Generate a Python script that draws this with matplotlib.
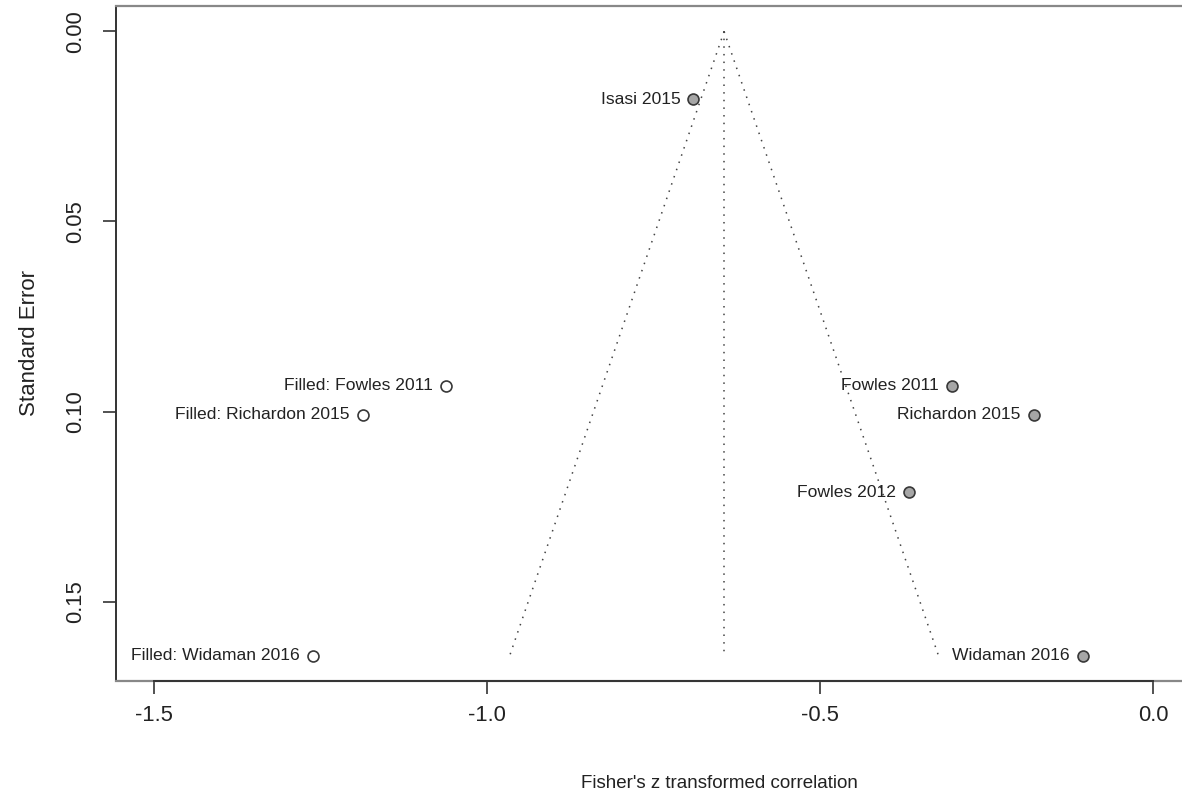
import numpy as np
import matplotlib
matplotlib.use("Agg")
from matplotlib import pyplot as plt

plt.rcParams['font.family'] = ['Liberation Sans', 'DejaVu Sans']

# observed studies (Fisher's z, standard error)
studies = ["Isasi 2015", "Fowles 2011", "Richardon 2015", "Fowles 2012", "Widaman 2016"]
z_obs = [-0.690, -0.302, -0.179, -0.366, -0.105]
se_obs = [0.0178, 0.0932, 0.1008, 0.1213, 0.1643]

# studies filled in by trim-and-fill
filled = ["Filled: Fowles 2011", "Filled: Richardon 2015", "Filled: Widaman 2016"]
z_fill = [-1.062, -1.186, -1.262]
se_fill = [0.0932, 0.1008, 0.1643]

# pooled estimate after filling
est = -0.644

xticks = [-1.5, -1.0, -0.5, 0.0]
yticks = [0.00, 0.05, 0.10, 0.15]

fig = plt.figure(figsize=(11.82, 7.92), dpi=100)
ax = fig.add_axes([0.09814, 0.14015, 0.90863, 0.8529])

# funnel
se_max = max(se_obs + se_fill)
se_line = np.array([0.0, se_max])
ax.plot(est - 1.96 * se_line, se_line, color='#444444', lw=1.1, ls=(0, (1, 4)))
ax.plot(est + 1.96 * se_line, se_line, color='#444444', lw=1.1, ls=(0, (1, 4)))
ax.plot([est, est], se_line, color='#444444', lw=1.1, ls=(0, (1, 4)))

# points
ax.scatter(z_obs, se_obs, s=62, facecolor='#a6a6a6', edgecolor='#383838', linewidths=1.2, zorder=3)
ax.scatter(z_fill, se_fill, s=62, facecolor='white', edgecolor='#383838', linewidths=1.2, zorder=3)

for name, x, y in zip(studies + filled, z_obs + z_fill, se_obs + se_fill):
    ax.annotate(name, (x, y), xytext=(-9.5, 0), textcoords='offset points',
                ha='right', va='center', fontsize=12.6, color='#222222')

ax.set_xlim(-1.5571, 0.0556)
ax.set_ylim(0.17092, -0.00684)

ax.set_xticks(xticks)
ax.set_xticklabels(["-1.5", "-1.0", "-0.5", "0.0"])
ax.set_yticks(yticks)
ax.set_yticklabels(["0.00", "0.05", "0.10", "0.15"], rotation=90, va='center')
ax.tick_params(axis='both', length=9.5, width=1.2, color='#333333', labelsize=15.8, labelcolor='#222222')
ax.tick_params(axis='x', pad=8)
ax.tick_params(axis='y', pad=12)

for side in ['top', 'bottom', 'right']:
    ax.spines[side].set_color('#888888')
    ax.spines[side].set_linewidth(1.6)
ax.spines['left'].set_color('#333333')
ax.spines['left'].set_linewidth(1.4)
# axis line between first and last tick
ax.plot([xticks[0], xticks[-1]], [ax.get_ylim()[0]] * 2, color='#333333', lw=1.4, clip_on=False, zorder=4)

ax.set_xlabel("Fisher's z transformed correlation", fontsize=13.5, color='#222222')
ax.xaxis.set_label_coords((719 - 116) / 1074, -0.139)
ax.set_ylabel("Standard Error", fontsize=16, color='#222222')
ax.yaxis.set_label_coords(-0.071, 0.5)

fig.savefig("out.png", dpi=100)
